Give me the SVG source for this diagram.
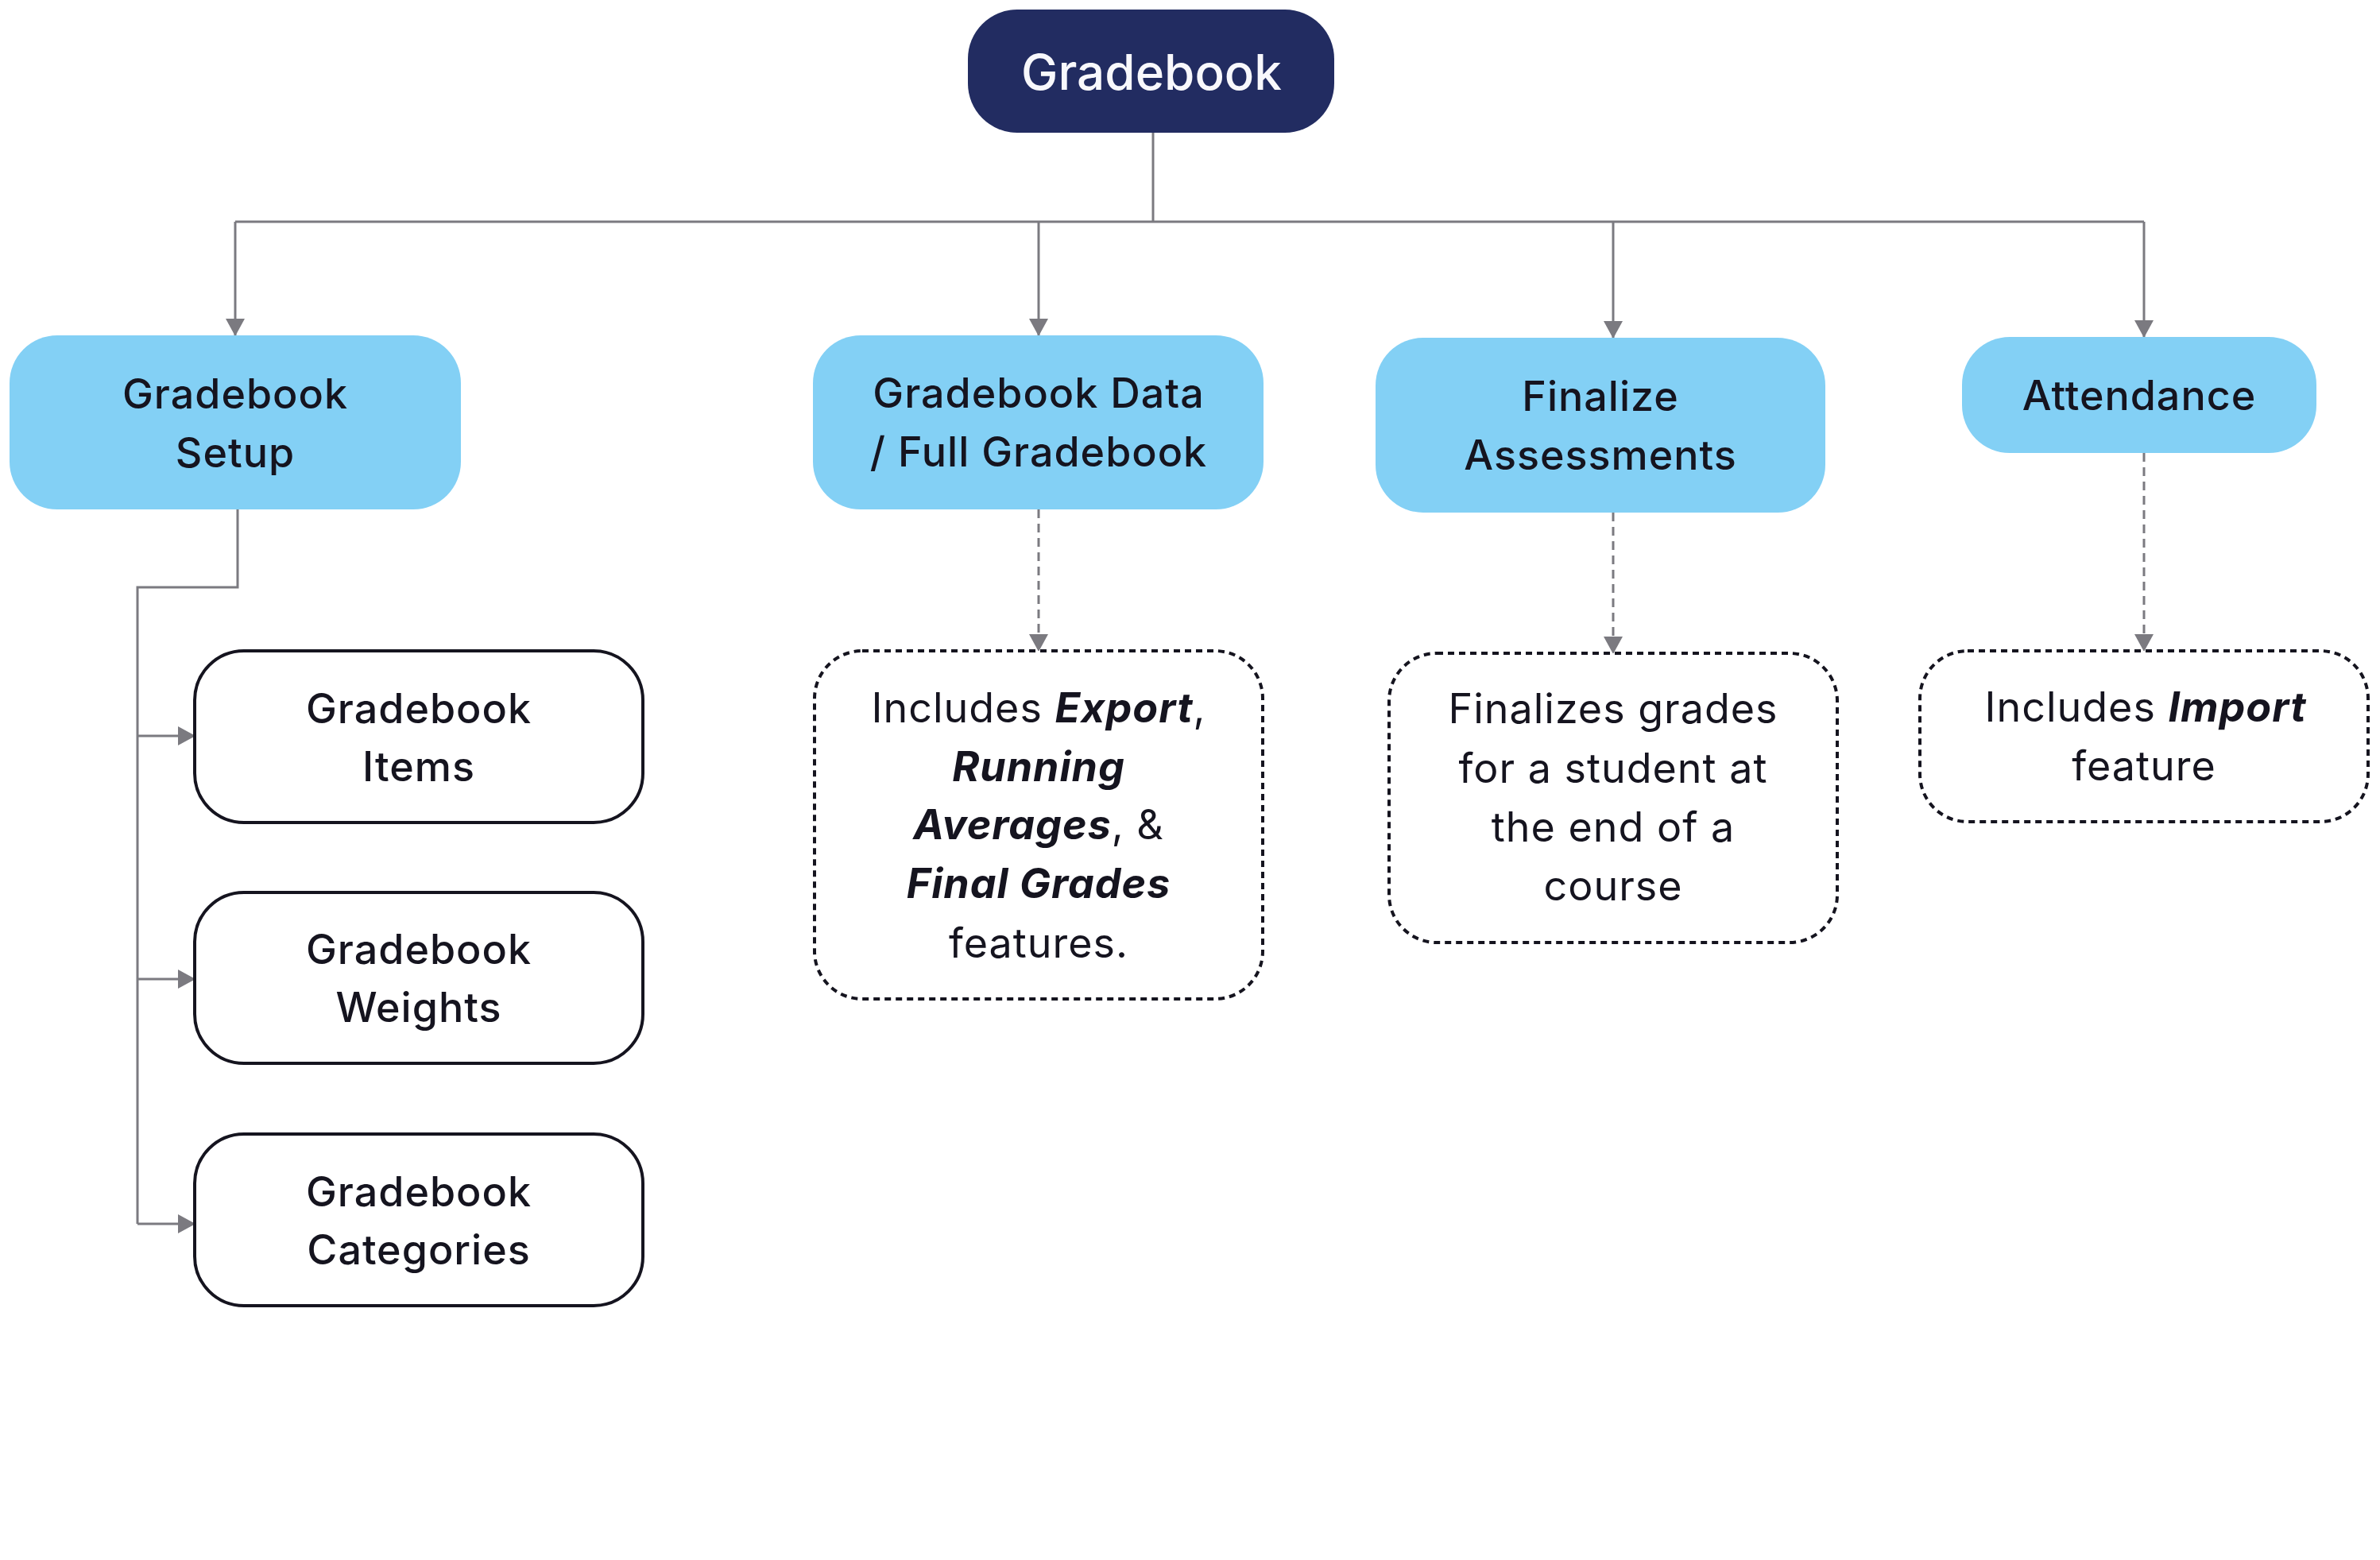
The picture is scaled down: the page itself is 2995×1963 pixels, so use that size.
<svg xmlns="http://www.w3.org/2000/svg" width="2995" height="1963" viewBox="0 0 2995 1963">
<style>
  text { font-family: Inter, "Noto Sans", "Liberation Sans", sans-serif; text-anchor: middle; fill: #15141f; }
  .lbl { font-size: 52px; font-weight: 500; letter-spacing: 1px; }
  .note { font-size: 52px; font-weight: 400; letter-spacing: 1px; }
  .root { font-size: 62px; font-weight: 500; fill: #f8f8fc; }
  .em { font-weight: 700; font-style: italic; }
  .l1 { fill: #83d0f5; }
  .child { fill: #ffffff; stroke: #15141f; stroke-width: 4; }
  .notebox { fill: #ffffff; stroke: #15141f; stroke-width: 4; stroke-dasharray: 8 6; }
  .conn { fill: none; stroke: #7b7a80; stroke-width: 3; }
  .dash { stroke-dasharray: 11 7; }
</style>
<defs>
  <marker id="arr" markerUnits="userSpaceOnUse" markerWidth="22" markerHeight="24" viewBox="0 0 22 24" refX="21" refY="12" orient="auto">
    <path d="M0,0 L22,12 L0,24 z" fill="#7b7a80"/>
  </marker>
</defs>
<rect width="2995" height="1963" fill="#ffffff"/>

<g id="connectors">
  <path class="conn" d="M1451,167 V279"/>
  <path class="conn" d="M296,279 H2698"/>
  <path class="conn" d="M296,279 V422" marker-end="url(#arr)"/>
  <path class="conn" d="M1307,279 V422" marker-end="url(#arr)"/>
  <path class="conn" d="M2030,279 V425" marker-end="url(#arr)"/>
  <path class="conn" d="M2698,279 V424" marker-end="url(#arr)"/>
  <path class="conn" d="M299,641 V739 H173 V1540"/>
  <path class="conn" d="M173,926 H245" marker-end="url(#arr)"/>
  <path class="conn" d="M173,1232 H245" marker-end="url(#arr)"/>
  <path class="conn" d="M173,1540 H245" marker-end="url(#arr)"/>
  <path class="conn dash" d="M1307,641 V819" marker-end="url(#arr)"/>
  <path class="conn dash" d="M2030,645 V822" marker-end="url(#arr)"/>
  <path class="conn dash" d="M2698,570 V819" marker-end="url(#arr)"/>
</g>

<g id="root">
  <rect x="1218" y="12" width="461" height="155" rx="62" fill="#222c61"/>
  <text class="root" x="1449" y="113">Gradebook</text>
</g>

<g id="setup">
  <rect class="l1" x="12" y="422" width="568" height="219" rx="60"/>
  <text class="lbl" x="296" y="514">Gradebook</text>
  <text class="lbl" x="296" y="588">Setup</text>
</g>

<g id="data">
  <rect class="l1" x="1023" y="422" width="567" height="219" rx="60"/>
  <text class="lbl" x="1307" y="513">Gradebook Data</text>
  <text class="lbl" x="1307" y="587">/ Full Gradebook</text>
</g>

<g id="finalize">
  <rect class="l1" x="1731" y="425" width="566" height="220" rx="60"/>
  <text class="lbl" x="2014" y="517">Finalize</text>
  <text class="lbl" x="2014" y="591">Assessments</text>
</g>

<g id="attendance">
  <rect class="l1" x="2469" y="424" width="446" height="146" rx="60"/>
  <text class="lbl" x="2692" y="516">Attendance</text>
</g>

<g id="items">
  <rect class="child" x="245" y="819" width="564" height="216" rx="62"/>
  <text class="lbl" x="527" y="910">Gradebook</text>
  <text class="lbl" x="527" y="983">Items</text>
</g>

<g id="weights">
  <rect class="child" x="245" y="1123" width="564" height="215" rx="62"/>
  <text class="lbl" x="527" y="1213">Gradebook</text>
  <text class="lbl" x="527" y="1286">Weights</text>
</g>

<g id="categories">
  <rect class="child" x="245" y="1427" width="564" height="216" rx="62"/>
  <text class="lbl" x="527" y="1518">Gradebook</text>
  <text class="lbl" x="527" y="1591">Categories</text>
</g>

<g id="data-note">
  <rect class="notebox" x="1025" y="819" width="564" height="438" rx="60"/>
  <text class="note" x="1307" y="909">Includes <tspan class="em">Export</tspan>,</text>
  <text class="note" x="1307" y="983"><tspan class="em">Running</tspan></text>
  <text class="note" x="1307" y="1056"><tspan class="em">Averages</tspan>, &amp;</text>
  <text class="note" x="1307" y="1130"><tspan class="em">Final Grades</tspan></text>
  <text class="note" x="1307" y="1205">features.</text>
</g>

<g id="finalize-note">
  <rect class="notebox" x="1748" y="822" width="564" height="364" rx="60"/>
  <text class="note" x="2030" y="910">Finalizes grades</text>
  <text class="note" x="2030" y="985">for a student at</text>
  <text class="note" x="2030" y="1059">the end of a</text>
  <text class="note" x="2030" y="1133">course</text>
</g>

<g id="attendance-note">
  <rect class="notebox" x="2416" y="819" width="564" height="215" rx="60"/>
  <text class="note" x="2700" y="908">Includes <tspan class="em">Import</tspan></text>
  <text class="note" x="2698" y="982">feature</text>
</g>
</svg>
